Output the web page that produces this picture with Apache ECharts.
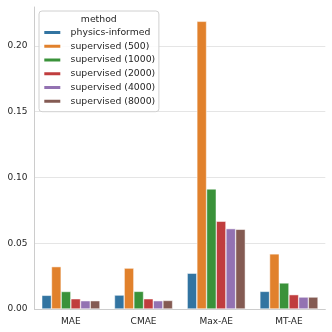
<!DOCTYPE html>
<html>
<head>
<meta charset="utf-8">
<script src="https://cdn.jsdelivr.net/npm/echarts@6/dist/echarts.min.js"></script>
<style>
  html, body { margin: 0; padding: 0; background: #fff; }
  #chart { width: 332px; height: 332px; }
</style>
</head>
<body>
<div id="chart"></div>
<script>
var metrics = ['MAE', 'CMAE', 'Max-AE', 'MT-AE'];
var methods = ['physics-informed', 'supervised (500)', 'supervised (1000)',
               'supervised (2000)', 'supervised (4000)', 'supervised (8000)'];
var physicsInformed = [0.0104, 0.0106, 0.0272, 0.0134];
var sup500  = [0.0322, 0.0311, 0.2187, 0.0419];
var sup1000 = [0.0133, 0.0134, 0.0913, 0.0198];
var sup2000 = [0.0078, 0.0078, 0.0667, 0.0109];
var sup4000 = [0.0063, 0.0063, 0.0611, 0.0091];
var sup8000 = [0.0063, 0.0065, 0.0606, 0.0091];
var yTicks = [0, 0.05, 0.10, 0.15, 0.20];

var colors = ['#3274a1', '#e1812c', '#3a923a', '#c03d3e', '#9372b2', '#845b53'];
var values = [physicsInformed, sup500, sup1000, sup2000, sup4000, sup8000];

var chart = echarts.init(document.getElementById('chart'));

var series = methods.map(function (name, i) {
    return {
        name: name,
        type: 'bar',
        data: values[i],
        barGap: '0%',
        barCategoryGap: '20%',
        itemStyle: { color: colors[i], borderColor: '#fff', borderWidth: 0.5 }
    };
});

var option = {
    animation: false,
    color: colors,
    textStyle: { fontFamily: 'DejaVu Sans' },
    grid: { left: 34.5, right: 6.7, top: 7, bottom: 23 },
    legend: {
        orient: 'vertical',
        left: 39,
        top: 11,
        padding: [16.5, 3.7, 5.4, 3.3],
        itemWidth: 18,
        itemHeight: 5,
        itemGap: 3.76,
        icon: 'rect',
        backgroundColor: 'rgba(255,255,255,0.85)',
        borderColor: '#d0d0d0',
        borderWidth: 1,
        borderRadius: 3,
        textStyle: { fontSize: 9.3, color: '#262626', lineHeight: 10, padding: [0, 0, 0, 4.3] },
        data: methods
    },
    graphic: [{
        type: 'text',
        x: 98.8,
        y: 19.7,
        z: 100,
        style: {
            text: 'method',
            font: '9.3px "DejaVu Sans"',
            fill: '#262626',
            align: 'center',
            verticalAlign: 'middle'
        }
    }],
    xAxis: {
        type: 'category',
        data: metrics,
        axisLine: { lineStyle: { color: '#cccccc', width: 1 } },
        axisTick: { show: false },
        axisLabel: { fontSize: 9, color: '#262626', margin: 8 }
    },
    yAxis: {
        type: 'value',
        min: 0,
        max: 0.2296,
        interval: 0.05,
        axisLine: { show: true, lineStyle: { color: '#cccccc', width: 1 } },
        axisTick: { show: false },
        splitLine: { show: true, showMaxLine: false, lineStyle: { color: '#e5e5e5', width: 1 } },
        axisLabel: {
            fontSize: 9,
            color: '#262626',
            margin: 7,
            showMaxLabel: false,
            formatter: function (v) {
                for (var k = 0; k < yTicks.length; k++) {
                    if (Math.abs(v - yTicks[k]) < 1e-9) return yTicks[k].toFixed(2);
                }
                return '';
            }
        }
    },
    series: series
};
chart.setOption(option);
</script>
</body>
</html>
